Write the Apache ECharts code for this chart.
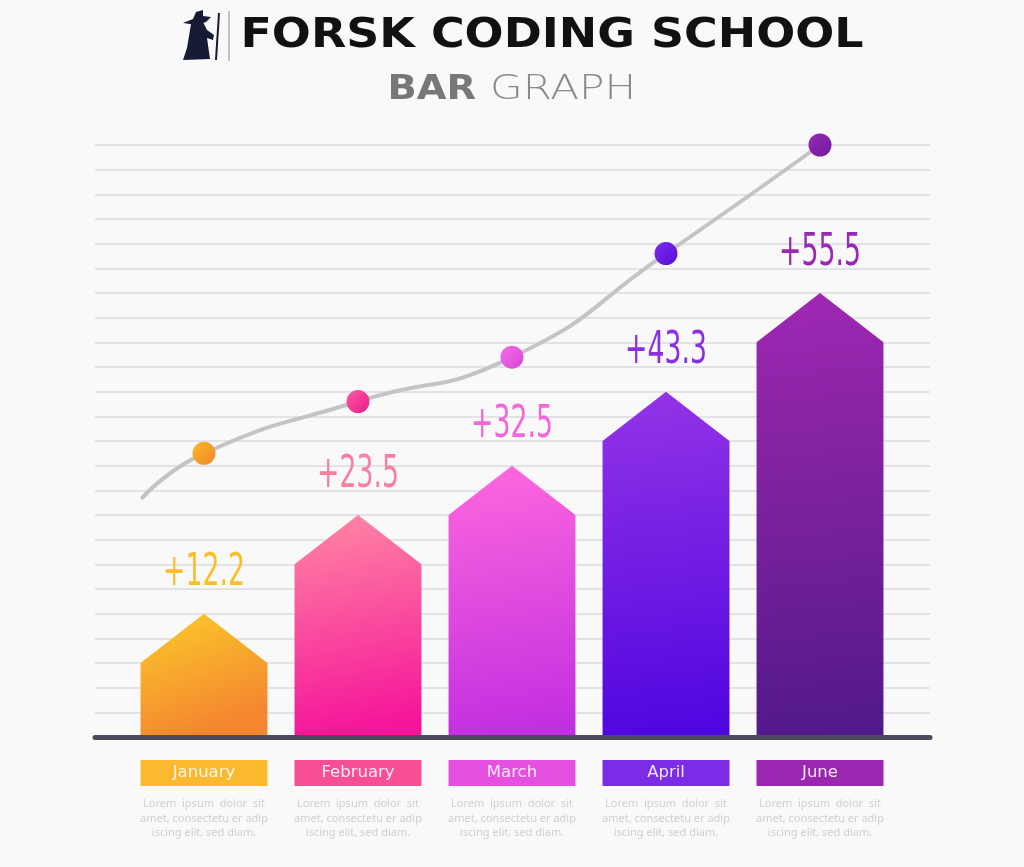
<!DOCTYPE html>
<html>
<head>
    <meta charset="utf-8">
    <title>Forsk Coding School - Bar Graph</title>
    <script src="https://cdn.jsdelivr.net/npm/echarts@6/dist/echarts.min.js"></script>
    <style>
        html, body { margin: 0; padding: 0; background: #f9f9fa; }
    </style>
</head>
<body>
    <div id="main" style="width: 1024px;height:867px;"></div>
    <script type="text/javascript">
        // data (bar heights and curve in grid-line units)
        var months = ['January', 'February', 'March', 'April', 'June'];
        var gains = ['+12.2', '+23.5', '+32.5', '+43.3', '+55.5'];
        var barHeights = [3, 7, 9, 12, 16];
        var curveX = [-0.4, 0, 1, 2, 3, 4];
        var curveY = [9.7, 11.5, 13.6, 15.4, 19.6, 24];
        var lorem = ['Lorem  ipsum  dolor  sit', 'amet, consectetu er adip', 'iscing elit, sed diam.'];

        // colours
        var barTop = ['#fccb2b', '#ff88a3', '#ff68dd', '#9434e6', '#a028b2'];
        var barBottom = ['#f4872f', '#f5149a', '#c22fe0', '#5006e0', '#52198a'];
        var labelColors = ['#fbbf2c', '#f6809f', '#f565dc', '#8a2fe2', '#9b27b5'];
        var dotTop = ['#fbb52a', '#f95ea0', '#f370e8', '#7c2aec', '#962ab4'];
        var dotBottom = ['#ef8829', '#ec188c', '#d844d6', '#5610d6', '#731c9c'];
        var boxColors = ['#fbb92f', '#f84e95', '#e650e0', '#7c2ce6', '#9b27b0'];

        var TIP = 2; // arrow tip height in grid units

        var myChart = echarts.init(document.getElementById('main'));

        var rich = {
            d: { color: '#cfcfd4', fontSize: 11, fontFamily: 'Noto Sans', lineHeight: 14.5 },
            s: { height: 11, lineHeight: 11, fontSize: 2 }
        };
        boxColors.forEach(function (c, i) {
            rich['c' + i] = {
                backgroundColor: c, width: 127, height: 26, lineHeight: 26, align: 'center',
                color: 'rgba(255,255,255,0.88)', fontSize: 16.5, fontFamily: 'DejaVu Sans'
            };
        });

        function renderArrow(params, api) {
            var i = params.dataIndex;
            var v = api.value(1);
            var b = api.coord([i, 0]);
            var s = api.coord([i, v]);
            var a = api.coord([i, v + TIP]);
            var hw = api.size([1, 0])[0] * 0.412;
            return {
                type: 'group',
                children: [{
                    type: 'polygon',
                    shape: { points: [[b[0] - hw, b[1]], [b[0] - hw, s[1]], [b[0], a[1]], [b[0] + hw, s[1]], [b[0] + hw, b[1]]] },
                    style: {
                        fill: new echarts.graphic.LinearGradient(0, 0, 0.35, 1, [
                            { offset: 0, color: barTop[i] }, { offset: 1, color: barBottom[i] }
                        ])
                    }
                }, {
                    type: 'text',
                    x: b[0],
                    y: a[1] - 40,
                    scaleX: 0.66,
                    style: {
                        text: gains[i], fill: labelColors[i], align: 'center', verticalAlign: 'middle',
                        fontSize: 45, fontFamily: "'DejaVu Sans Condensed', 'DejaVu Sans', sans-serif"
                    }
                }]
            };
        }

        option = {
            backgroundColor: '#f9f9fa',
            animation: false,
            graphic: [
                // logo
                { type: 'polygon', shape: { points: [[183, 23], [193, 19], [196, 12], [203, 10], [203, 16], [211, 17], [206, 22], [197, 25]] }, style: { fill: '#161b35' } },
                { type: 'polygon', shape: { points: [[191, 24], [203, 22], [207, 30], [214, 35], [213, 40], [207, 38], [210, 59], [183, 60], [187, 48], [189, 36]] }, style: { fill: '#161b35' } },
                { type: 'line', shape: { x1: 219, y1: 13, x2: 216, y2: 60 }, style: { stroke: '#161b35', lineWidth: 2 } },
                { type: 'line', shape: { x1: 229, y1: 11, x2: 229, y2: 61 }, style: { stroke: '#8a8a8a', lineWidth: 1 } },
                {
                    type: 'text', x: 552, y: 36, scaleX: 1.12,
                    style: { text: 'FORSK CODING SCHOOL', fill: '#111111', fontSize: 41, fontWeight: 'bold', fontFamily: 'DejaVu Sans', align: 'center', verticalAlign: 'middle' }
                },
                {
                    type: 'text', x: 476, y: 90, scaleX: 1.13,
                    style: { text: 'BAR', fill: '#777777', fontSize: 34, fontWeight: 'bold', fontFamily: 'DejaVu Sans', align: 'right', verticalAlign: 'middle' }
                },
                {
                    type: 'text', x: 490, y: 90, scaleX: 1.24,
                    style: { text: 'GRAPH', fill: '#8a8a8a', fontSize: 34, fontWeight: 200, fontFamily: 'DejaVu Sans', align: 'left', verticalAlign: 'middle' }
                }
            ],
            grid: [
                { left: 95, right: 94, top: 145, bottom: 130 },
                { left: 127, right: 127, top: 145, bottom: 130 }
            ],
            xAxis: [
                {
                    gridIndex: 0, type: 'value', min: 0, max: 1, z: 10,
                    axisLine: { show: true, lineStyle: { color: '#4b4b5c', width: 5, cap: 'round' } },
                    axisTick: { show: false }, axisLabel: { show: false }, splitLine: { show: false }
                },
                {
                    gridIndex: 1, type: 'category', data: months,
                    axisLine: { show: false }, axisTick: { show: false },
                    axisLabel: {
                        interval: 0, margin: 23, verticalAlign: 'top',
                        formatter: function (val, idx) {
                            return '{c' + idx + '|' + val + '}\n{s| }\n{d|' + lorem.join('}\n{d|') + '}';
                        },
                        rich: rich
                    }
                },
                {
                    gridIndex: 1, type: 'value', min: -0.5, max: 4.5, show: false
                }
            ],
            yAxis: [
                {
                    gridIndex: 0, type: 'value', min: 0, max: 24, interval: 1,
                    axisLine: { show: false }, axisTick: { show: false }, axisLabel: { show: false },
                    splitLine: { lineStyle: { color: '#e3e3e7', width: 2 } }
                },
                { gridIndex: 1, type: 'value', min: 0, max: 24, show: false }
            ],
            series: [
                {
                    type: 'custom',
                    xAxisIndex: 1, yAxisIndex: 1,
                    renderItem: renderArrow,
                    data: barHeights.map(function (h, i) { return [i, h]; }),
                    z: 3
                },
                {
                    type: 'line',
                    xAxisIndex: 2, yAxisIndex: 1,
                    data: curveX.map(function (x, i) { return [x, curveY[i]]; }),
                    smooth: 0.55,
                    symbol: 'none',
                    clip: false,
                    lineStyle: { color: '#c4c4c6', width: 4, cap: 'round' },
                    z: 4
                },
                {
                    type: 'scatter',
                    xAxisIndex: 2, yAxisIndex: 1,
                    symbolSize: 23,
                    clip: false,
                    data: curveX.slice(1).map(function (x, i) {
                        return {
                            value: [x, curveY[i + 1]],
                            itemStyle: {
                                opacity: 1,
                                color: new echarts.graphic.LinearGradient(0, 0, 1, 1, [
                                    { offset: 0, color: dotTop[i] }, { offset: 1, color: dotBottom[i] }
                                ])
                            }
                        };
                    }),
                    z: 5
                }
            ]
        };

        myChart.setOption(option);
    </script>
</body>
</html>
